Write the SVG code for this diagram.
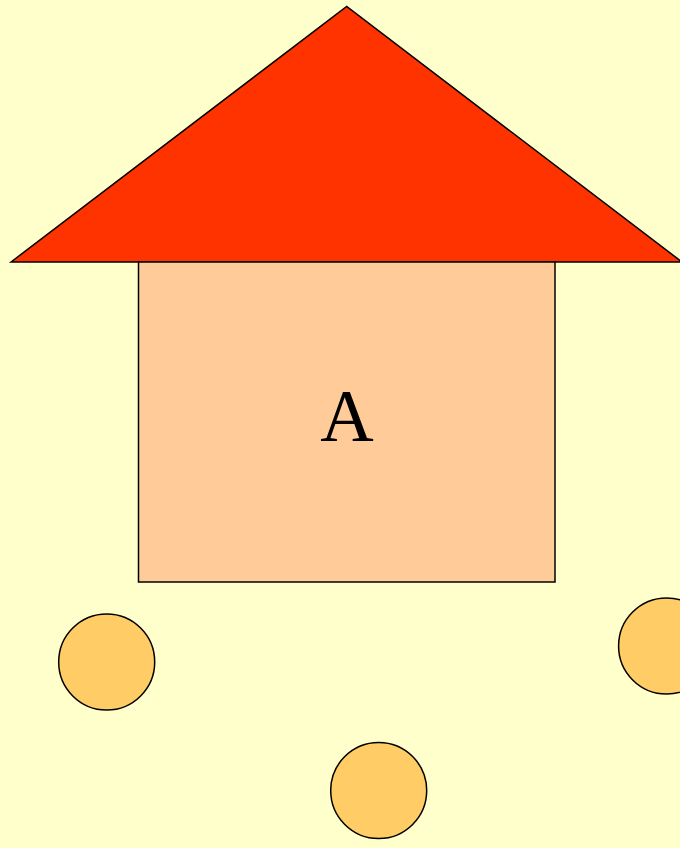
<svg xmlns="http://www.w3.org/2000/svg" width="680" height="848" viewBox="0 0 680 848">
<style>
.shape{stroke:#000;stroke-width:1.5}
.wheel{fill:#FFCC66;stroke:#000;stroke-width:1.5}
.label{font-family:"Liberation Serif","Times New Roman",serif;font-size:74px;fill:#000;text-anchor:middle}
</style>
<rect x="0" y="0" width="680" height="848" fill="#FFFFCC"/>
<g id="roof">
<polygon class="shape" points="11,262 346.7,6.5 682,262" fill="#FF3300"/>
</g>
<g id="house">
<rect class="shape" x="138.5" y="262" width="416.5" height="320" fill="#FFCC99"/>
<text class="label" x="347" y="441">A</text>
</g>
<g id="circle1"><circle class="wheel" cx="106.7" cy="662" r="48"/></g>
<g id="circle2"><circle class="wheel" cx="378.7" cy="790.5" r="48"/></g>
<g id="circle3"><circle class="wheel" cx="666.6" cy="646" r="48"/></g>
<g id="connectors"></g>
</svg>
